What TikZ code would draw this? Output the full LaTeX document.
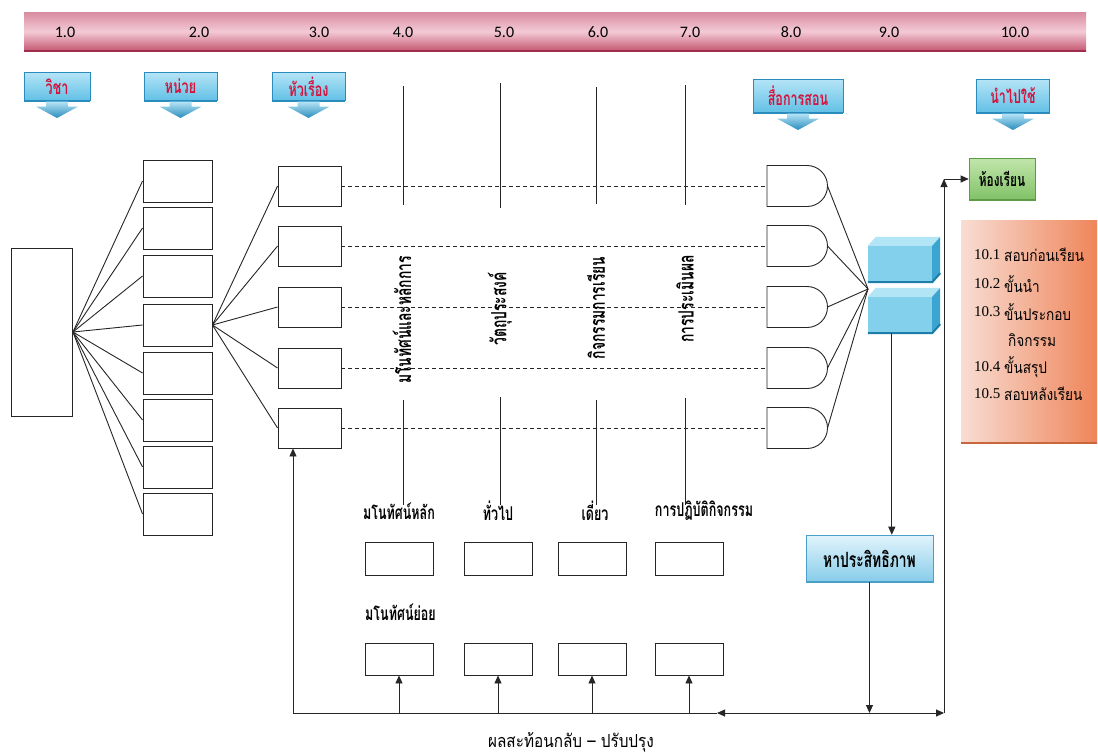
\documentclass[tikz,border=0pt]{standalone}
\usepackage{fontspec}
\usetikzlibrary{arrows.meta,calc}
\newfontfamily\thb[Script=Thai,FakeStretch=0.66]{Loma}
\newfontfamily\thr[Script=Thai,FakeStretch=0.85]{Loma}
\newfontfamily\numf{Carlito}
\newfontfamily\numserif{Liberation Serif}
\definecolor{barT}{HTML}{D98BA0}
\definecolor{barM}{HTML}{F3CAD6}
\definecolor{barB}{HTML}{C45670}
\definecolor{barE}{HTML}{9E2E4C}
\definecolor{cbT}{HTML}{B4E4F6}
\definecolor{cbB}{HTML}{62C0E6}
\definecolor{cbE}{HTML}{2A8CBC}
\definecolor{redtxt}{HTML}{D4143C}
\definecolor{grT}{HTML}{C2E6AC}
\definecolor{grB}{HTML}{80C266}
\definecolor{grE}{HTML}{5C9A46}
\definecolor{orL}{HTML}{F8DDD3}
\definecolor{orR}{HTML}{EF855A}
\definecolor{orE}{HTML}{C8673E}
\definecolor{blF}{HTML}{82D0EC}
\definecolor{blT}{HTML}{B2E5F6}
\definecolor{blS}{HTML}{3CA4D0}
\definecolor{blE}{HTML}{1C7EA8}
\definecolor{efT}{HTML}{E2F4FB}
\definecolor{efB}{HTML}{86CCEA}
\definecolor{efE}{HTML}{4A9FC8}
\begin{document}
\begin{tikzpicture}[x=1pt,y=-1pt,
  wbox/.style={draw=black!85, line width=0.9pt, fill=white, inner sep=0pt},
  conn/.style={draw=black!85, line width=0.9pt},
  dline/.style={draw=black!85, line width=0.9pt, dash pattern=on 4pt off 3pt},
  arr/.style={conn, -{Triangle[length=8pt,width=7pt]}},
  callbox/.style={draw=cbE, line width=0.6pt, top color=cbT, bottom color=cbB, inner sep=0pt,
     font=\thb\bfseries\fontsize{19}{19}\selectfont, text=redtxt},
  lbl/.style={inner sep=0pt, font=\thb\bfseries\fontsize{19}{19}\selectfont},
  vlbl/.style={inner sep=0pt, rotate=90, font=\thb\bfseries\fontsize{21}{21}\selectfont},
  numl/.style={inner sep=0pt, font=\numf\fontsize{16}{16}\selectfont},
  otxt/.style={inner sep=0pt, anchor=west, font=\thr\fontsize{16}{16}\selectfont},
  onum/.style={inner sep=0pt, anchor=west, font=\numserif\fontsize{15}{15}\selectfont}
]
\useasboundingbox (0,0) rectangle (1098,755);
\fill[white] (0,0) rectangle (1098,755);

% top bar
\shade[top color=barT, bottom color=barB, middle color=barM] (24,12) rectangle (1086,51);
\draw[barE, line width=2pt] (24,51) -- (1086,51);
\foreach \x/\t [count=\k] in {65/1.0,199/2.0,319/3.0,403/4.0,504/5.0,598/6.0,690/7.0,791/8.0,889/9.0,1015/10.0}
  \node[numl] (n\k) at (\x,32) {\t};

% callouts
\foreach \nm/\x/\y/\w/\h/\tp/\t in {c1/57/86.5/66/28/118/วิชา, c2/180.5/86.5/73/28/118/หน่วย, c3/308.5/86.5/73/28/118/หัวเรื่อง, c4/798/96/90/33/130/สื่อการสอน, c5/1013/96/73/33/130/นำไปใช้}{
  \node[callbox, minimum width=\w pt, minimum height=\h pt] (\nm) at (\x,\y) {\t};
  \draw[cbE, line width=1.6pt] (\nm.south west) -- (\nm.south east);
  \shade[top color=cbT, bottom color=cbE]
    ($(\nm.south)+(-11,0.8)$) -- ++(0,5) -- ++(-10,0) -- (\x,\tp) -- ($(\nm.south)+(21,5.8)$) -- ++(-10,0) -- ++(0,-5) -- cycle;
}

% left tree
\node[wbox, minimum width=61pt, minimum height=168pt] (u0) at (42,332) {};
\foreach \i/\y in {1/181,2/228,3/276,4/325,5/373,6/420,7/467,8/514}
  \node[wbox, minimum width=69pt, minimum height=42pt] (b\i) at (177.5,\y) {};
\foreach \i in {1,...,8} \draw[conn] (u0.east) -- (b\i.west);

\foreach \i/\y in {1/186,2/246,3/307,4/368,5/428}
  \node[wbox, minimum width=63pt, minimum height=40pt] (t\i) at (309.5,\y) {};
\foreach \i in {1,...,5} \draw[conn] (b4.east) -- (t\i.west);

% D shapes
\coordinate (conv) at (868,289);
\foreach \i/\y in {1/186,2/246,3/307,4/368,5/428}{
  \draw[conn] (767,\y-20.5) -- (807,\y-20.5) arc[start angle=90,end angle=-90,radius=20.5pt] -- (767,\y+20.5) -- cycle;
  \coordinate (dw\i) at (767,\y);
  \coordinate (de\i) at (827.5,\y);
  \draw[dline] (t\i.east) -- (dw\i);
  \draw[conn] (de\i) -- (conv);
}

% vertical column lines
\foreach \x/\a/\b/\c/\d in {403/86/205/400/505, 500/83/208/397/505, 596/87/204/400/505, 685/85/205/398/505}{
  \coordinate (va) at (\x,\a); \coordinate (vb) at (\x,\b);
  \coordinate (vc) at (\x,\c); \coordinate (vd) at (\x,\d);
  \draw[conn] (va) -- (vb);
  \draw[conn] (vc) -- (vd);
}
\node[vlbl] (v1) at (402,320) {มโนทัศน์และหลักการ};
\node[vlbl] (v2) at (500,309) {วัตถุประสงค์};
\node[vlbl] (v3) at (596,308) {กิจกรรมการเรียน};
\node[vlbl] (v4) at (685,299) {การประเมินผล};

% lower labels and boxes
\foreach \i/\x/\lx/\t in {1/399/399/มโนทัศน์หลัก,2/498/498/ทั่วไป,3/592/595/เดี่ยว,4/689/704/การปฏิบัติกิจกรรม}{
  \node[lbl] (l\i) at (\lx,511) {\t};
  \node[wbox, minimum width=68pt, minimum height=33pt] (r1\i) at (\x,558.5) {};
  \node[wbox, minimum width=68pt, minimum height=32pt] (r2\i) at (\x,659) {};
}
\node[lbl, anchor=west] (lsub) at (365,612) {มโนทัศน์ย่อย};

% 3D blocks
\foreach \nm/\y in {blkA/264, blkB/315}{
  \node[fill=blF, minimum width=64pt, minimum height=36pt, inner sep=0pt] (\nm) at (900,\y) {};
  \fill[blT] (\nm.north west) -- ++(8,-9) -- ++(64,0) -- (\nm.north east) -- cycle;
  \fill[blS] (\nm.north east) -- ++(8,-9) -- ++(0,36) -- (\nm.south east) -- cycle;
  \draw[blE, line width=2pt] (\nm.south west) -- (\nm.south east) -- ++(8,-9);
}

% efficiency box
\node[draw=efE, line width=0.6pt, top color=efT, bottom color=efB, minimum width=127pt, minimum height=47pt,
      inner sep=0pt, font=\thb\bfseries\fontsize{21}{21}\selectfont] (eff) at (869.5,558.5) {หาประสิทธิภาพ};
\draw[efE, line width=2pt] (eff.south west) -- (eff.south east);
\coordinate (bx) at ([xshift=24pt]blkB.south west);
\draw[arr] (bx) -- (bx |- eff.north);

% classroom box
\node[draw=grE, line width=0.6pt, top color=grT, bottom color=grB, minimum width=66pt, minimum height=42pt,
      inner sep=0pt, font=\thb\bfseries\fontsize{18}{18}\selectfont] (cls) at (1002,179) {ห้องเรียน};
\draw[grE, line width=2pt] (cls.south west) -- (cls.south east);

% orange box
\node[left color=orL, right color=orR, minimum width=136pt, minimum height=223pt, inner sep=0pt] (ob) at (1029,331.5) {};
\draw[orE, line width=2pt] (ob.south west) -- (ob.south east);
\foreach \y/\n/\t in {255/10.1/สอบก่อนเรียน, 284/10.2/ขั้นนำ, 312/10.3/ขั้นประกอบ, 367/10.4/ขั้นสรุป, 394/10.5/สอบหลังเรียน}{
  \node[onum] at (974,\y) {\n};
  \node[otxt] at (1004,\y) {\t};
}
\node[otxt] (okj) at (1008,340) {กิจกรรม};

% feedback loop
\coordinate (ybot) at (0,713);
\coordinate (bj) at (eff.south |- ybot);
\coordinate (rb) at (944,713);
\coordinate (lmid) at (717,713);
\coordinate (lb) at (293,713);
\coordinate (rt) at (rb |- cls.west);
\draw[arr] (eff.south) -- (bj);
\draw[arr] (bj) -- (rb);
\draw[arr] (bj) -- (lmid);
\draw[conn] (lmid) -- (lb);
\draw[arr] (lb) -- (lb |- t5.south);
\foreach \i in {1,...,4} \draw[arr] (r2\i.south |- ybot) -- (r2\i.south);
\draw[arr] (rb) -- (rt);
\draw[arr] (rt) -- (cls.west);

\node[inner sep=0pt, font=\thr\fontsize{18}{18}\selectfont] (cap) at (571,742) {ผลสะท้อนกลับ – ปรับปรุง};
\end{tikzpicture}
\end{document}
